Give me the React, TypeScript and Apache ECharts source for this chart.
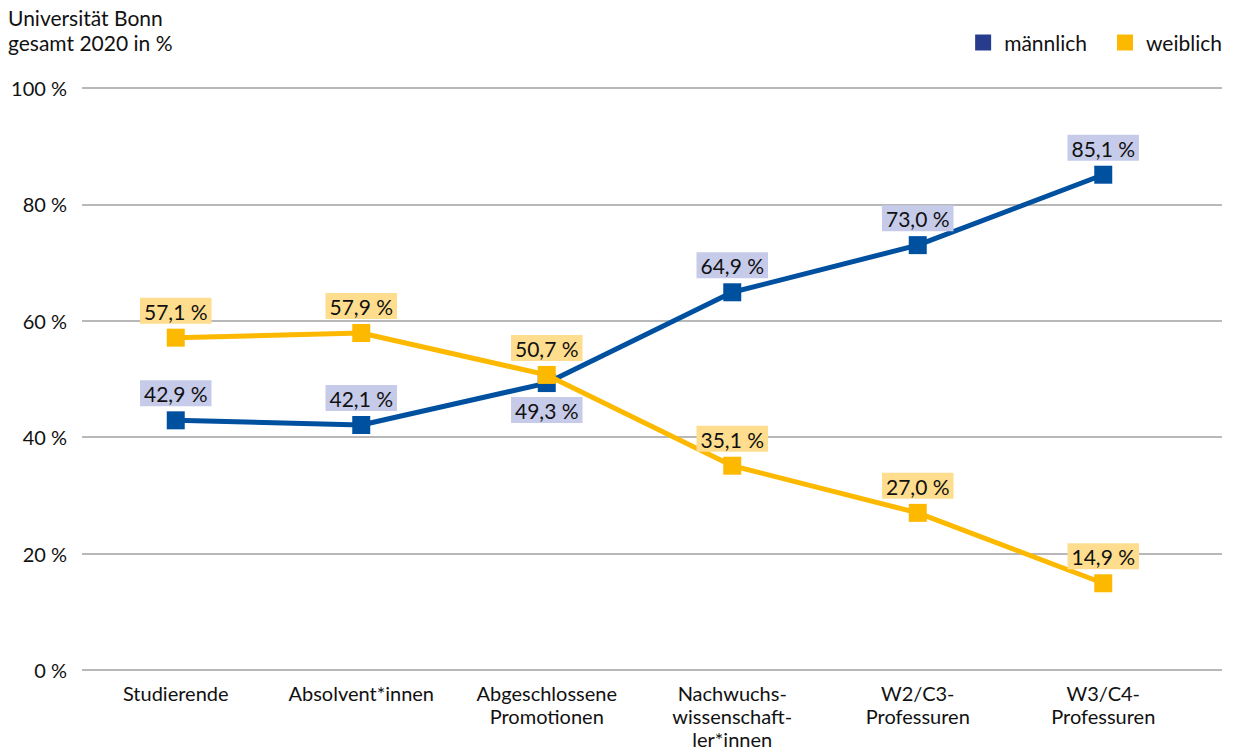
import React, { useEffect, useRef } from "react";
import * as echarts from "echarts";

const categories = [
  "Studierende",
  "Absolvent*innen",
  "Abgeschlossene\nPromotionen",
  "Nachwuchs-\nwissenschaft-\nler*innen",
  "W2/C3-\nProfessuren",
  "W3/C4-\nProfessuren",
];
const maleValues = [42.9, 42.1, 49.3, 64.9, 73.0, 85.1];
const femaleValues = [57.1, 57.9, 50.7, 35.1, 27.0, 14.9];
const maleLabelBelow = [false, false, true, false, false, false];

const FONT = "Lato, 'Open Sans', sans-serif";
const fmt = (v: number) => v.toFixed(1).replace(".", ",") + " %";

export default function App() {
  const ref = useRef<HTMLDivElement>(null);
  useEffect(() => {
    const chart = echarts.init(ref.current!, null, { renderer: "svg" });
    const labelBase = {
      show: true,
      fontFamily: FONT,
      fontSize: 21,
      color: "#111",
      padding: [3, 4, 2, 4],
      distance: 5,
      formatter: (p: any) => fmt(p.value),
    };
    chart.setOption({
      animation: false,
      textStyle: { fontFamily: FONT },
      title: {
        text: "Universität Bonn\ngesamt 2020 in %",
        left: 3,
        top: 0,
        textStyle: { fontFamily: FONT, fontSize: 21, fontWeight: "normal", color: "#111", lineHeight: 25 },
      },
      legend: {
        right: 7,
        top: 27,
        icon: "rect",
        itemWidth: 16,
        itemHeight: 16,
        itemGap: 30,
        textStyle: { fontFamily: FONT, fontSize: 21, color: "#111", padding: [0, 0, 0, 8] },
        data: [
          { name: "männlich", itemStyle: { color: "#283C8E" } },
          { name: "weiblich", itemStyle: { color: "#FDB900" } },
        ],
      },
      grid: [
        { left: 82, right: 12, top: 88, bottom: 83 },
        { left: 83, right: 38, top: 88, bottom: 83 },
      ],
      xAxis: [
        { type: "value", gridIndex: 0, min: 0, max: 1, show: false },
        {
          type: "category",
          gridIndex: 1,
          data: categories,
          axisLine: { show: false },
          axisTick: { show: false },
          axisLabel: { fontFamily: FONT, fontSize: 20, color: "#111", margin: 11, lineHeight: 23, interval: 0 },
        },
      ],
      yAxis: [
        {
          type: "value",
          gridIndex: 0,
          min: 0,
          max: 100,
          interval: 20,
          axisLine: { show: false },
          axisTick: { show: false },
          axisLabel: { fontFamily: FONT, fontSize: 20, color: "#111", margin: 15, formatter: (v: number) => v + " %" },
          splitLine: { lineStyle: { color: "#A0A0A0", width: 1.5 } },
        },
        { type: "value", gridIndex: 1, min: 0, max: 100, show: false },
      ],
      series: [
        {
          name: "männlich",
          type: "line",
          xAxisIndex: 1,
          yAxisIndex: 1,
          z: 3,
          symbol: "rect",
          symbolSize: 18,
          lineStyle: { color: "#0050A0", width: 5 },
          itemStyle: { color: "#0050A0" },
          data: maleValues.map((v, i) => ({
            value: v,
            label: { position: maleLabelBelow[i] ? "bottom" : "top" },
          })),
          label: { ...labelBase, backgroundColor: "#C6CBE9" },
        },
        {
          name: "weiblich",
          type: "line",
          xAxisIndex: 1,
          yAxisIndex: 1,
          z: 4,
          symbol: "rect",
          symbolSize: 18,
          lineStyle: { color: "#FDB900", width: 5 },
          itemStyle: { color: "#FDB900" },
          data: femaleValues,
          label: { ...labelBase, position: "top", backgroundColor: "#FEDE8E" },
        },
      ],
    });
    return () => chart.dispose();
  }, []);
  return <div ref={ref} style={{ position: "absolute", left: 0, top: 0, width: 1234, height: 753 }} />;
}
